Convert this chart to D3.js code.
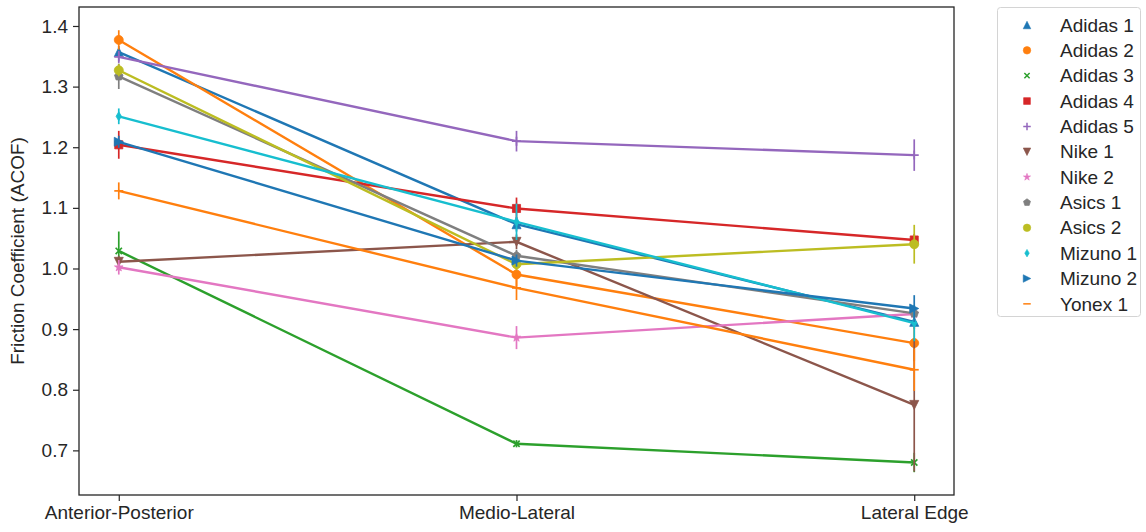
<!DOCTYPE html>
<html>
<head>
<meta charset="utf-8">
<script src="https://cdn.jsdelivr.net/npm/d3@7/dist/d3.min.js"></script>
<style>
  html, body { margin: 0; padding: 0; background: #fff; }
  svg { display: block; font-family: "Liberation Sans", Arial, sans-serif; }
</style>
</head>
<body>
<svg id="chart" width="1146" height="532"></svg>
<script>
// Test directions along the x axis
const categories = ["Anterior-Posterior", "Medio-Lateral", "Lateral Edge"];

// Shoe models
const shoes = ["Adidas 1", "Adidas 2", "Adidas 3", "Adidas 4", "Adidas 5", "Nike 1",
               "Nike 2", "Asics 1", "Asics 2", "Mizuno 1", "Mizuno 2", "Yonex 1"];

// Mean ACOF per shoe, one value per direction
const adidas1 = [1.357, 1.073, 0.912];
const adidas2 = [1.377, 0.990, 0.877];
const adidas3 = [1.029, 0.711, 0.680];
const adidas4 = [1.204, 1.099, 1.047];
const adidas5 = [1.349, 1.210, 1.187];
const nike1   = [1.011, 1.044, 0.775];
const nike2   = [1.002, 0.886, 0.925];
const asics1  = [1.317, 1.021, 0.926];
const asics2  = [1.327, 1.007, 1.040];
const mizuno1 = [1.251, 1.077, 0.910];
const mizuno2 = [1.209, 1.013, 0.934];
const yonex1  = [1.128, 0.968, 0.833];

// Standard deviation per shoe, one value per direction
const adidas1Err = [0.010, 0.012, 0.012];
const adidas2Err = [0.016, 0.020, 0.030];
const adidas3Err = [0.032, 0.006, 0.016];
const adidas4Err = [0.023, 0.018, 0.010];
const adidas5Err = [0.010, 0.017, 0.026];
const nike1Err   = [0.010, 0.012, 0.110];
const nike2Err   = [0.012, 0.019, 0.010];
const asics1Err  = [0.021, 0.010, 0.010];
const asics2Err  = [0.010, 0.010, 0.032];
const mizuno1Err = [0.013, 0.030, 0.030];
const mizuno2Err = [0.010, 0.010, 0.022];
const yonex1Err  = [0.014, 0.020, 0.035];

const yTicks = [0.7, 0.8, 0.9, 1.0, 1.1, 1.2, 1.3, 1.4];

const means = [adidas1, adidas2, adidas3, adidas4, adidas5, nike1, nike2, asics1, asics2, mizuno1, mizuno2, yonex1];
const errs = [adidas1Err, adidas2Err, adidas3Err, adidas4Err, adidas5Err, nike1Err, nike2Err, asics1Err, asics2Err, mizuno1Err, mizuno2Err, yonex1Err];

const colors = ["#1f77b4", "#ff7f0e", "#2ca02c", "#d62728", "#9467bd", "#8c564b",
                "#e377c2", "#7f7f7f", "#bcbd22", "#17becf", "#1f77b4", "#ff7f0e"];
const markers = ["triUp", "circle", "x", "square", "plus", "triDown",
                 "star", "pentagon", "circle", "thinDiamond", "triRight", "hline"];

// Marker shapes, m = marker size in px
function markerPath(kind, m) {
  const h = m / 2;
  const p = d3.path();
  switch (kind) {
    case "triUp":
      p.moveTo(0, -h); p.lineTo(-h, h); p.lineTo(h, h); p.closePath(); break;
    case "triDown":
      p.moveTo(0, h); p.lineTo(-h, -h); p.lineTo(h, -h); p.closePath(); break;
    case "triRight":
      p.moveTo(h, 0); p.lineTo(-h, -h); p.lineTo(-h, h); p.closePath(); break;
    case "circle":
      p.arc(0, 0, h, 0, 2 * Math.PI); p.closePath(); break;
    case "square": {
      const s = h * 0.9;
      p.rect(-s, -s, 2 * s, 2 * s); break;
    }
    case "pentagon":
      for (let i = 0; i < 5; i++) {
        const a = -Math.PI / 2 + i * 2 * Math.PI / 5;
        const px = h * Math.cos(a), py = h * Math.sin(a);
        if (i === 0) p.moveTo(px, py); else p.lineTo(px, py);
      }
      p.closePath(); break;
    case "star":
      for (let i = 0; i < 10; i++) {
        const a = -Math.PI / 2 + i * Math.PI / 5;
        const r = i % 2 === 0 ? h : h * 0.38;
        const px = r * Math.cos(a), py = r * Math.sin(a);
        if (i === 0) p.moveTo(px, py); else p.lineTo(px, py);
      }
      p.closePath(); break;
    case "thinDiamond":
      p.moveTo(0, -h); p.lineTo(h * 0.6, 0); p.lineTo(0, h); p.lineTo(-h * 0.6, 0); p.closePath(); break;
    case "x":
      p.moveTo(-h * 0.7, -h * 0.7); p.lineTo(h * 0.7, h * 0.7);
      p.moveTo(-h * 0.7, h * 0.7); p.lineTo(h * 0.7, -h * 0.7); break;
    case "plus":
      p.moveTo(-h, 0); p.lineTo(h, 0); p.moveTo(0, -h); p.lineTo(0, h); break;
    case "hline":
      p.moveTo(-h, 0); p.lineTo(h, 0); break;
  }
  return p.toString();
}
const strokeOnly = new Set(["x", "plus", "hline"]);

const svg = d3.select("#chart");
const frame = { left: 79, right: 954, top: 7, bottom: 495 };
const ink = "#262626";
const fontSize = "19px";

const x = d3.scalePoint().domain(categories).range([frame.left, frame.right]).padding(0.1);
const y = d3.scaleLinear().domain([0.6264, 1.4313]).range([frame.bottom, frame.top]);

// Axes
const xAxis = svg.append("g")
  .attr("transform", `translate(0,${frame.bottom})`)
  .call(d3.axisBottom(x).tickSize(6).tickPadding(5));
const yAxis = svg.append("g")
  .attr("transform", `translate(${frame.left},0)`)
  .call(d3.axisLeft(y).tickValues(yTicks).tickFormat(d3.format(".1f")).tickSize(6).tickPadding(5));
[xAxis, yAxis].forEach(g => {
  g.select(".domain").remove();
  g.selectAll(".tick line").attr("stroke", ink).attr("stroke-width", 1.2);
  g.selectAll(".tick text").attr("fill", ink).style("font-size", fontSize)
    .style("font-family", '"Liberation Sans", Arial, sans-serif');
});

// Y label
svg.append("text")
  .attr("transform", `translate(24,${(frame.top + frame.bottom) / 2}) rotate(-90)`)
  .attr("text-anchor", "middle")
  .attr("fill", ink)
  .style("font-size", fontSize)
  .text("Friction Coefficient (ACOF)");

// Series: error bars, connecting line, markers
const plot = svg.append("g");
means.forEach((vals, si) => {
  const g = plot.append("g");
  const col = colors[si];
  const pts = vals.map((v, i) => ({ cat: categories[i], v, e: errs[si][i] }));
  g.selectAll("line.err").data(pts).join("line")
    .attr("class", "err")
    .attr("x1", d => x(d.cat)).attr("x2", d => x(d.cat))
    .attr("y1", d => y(d.v - d.e)).attr("y2", d => y(d.v + d.e))
    .attr("stroke", col).attr("stroke-width", 1.7);
  g.append("path")
    .datum(pts)
    .attr("d", d3.line().x(d => x(d.cat)).y(d => y(d.v)))
    .attr("fill", "none").attr("stroke", col).attr("stroke-width", 2.4);
  const kind = markers[si];
  g.selectAll("path.mk").data(pts).join("path")
    .attr("class", "mk")
    .attr("transform", d => `translate(${x(d.cat)},${y(d.v)})`)
    .attr("d", markerPath(kind, 9))
    .attr("fill", strokeOnly.has(kind) ? "none" : col)
    .attr("stroke", col)
    .attr("stroke-width", strokeOnly.has(kind) ? 1.7 : 0.8);
});

// Plot frame
svg.append("rect")
  .attr("x", frame.left).attr("y", frame.top)
  .attr("width", frame.right - frame.left).attr("height", frame.bottom - frame.top)
  .attr("fill", "none").attr("stroke", ink).attr("stroke-width", 1.3);

// Legend
const leg = svg.append("g");
leg.append("rect")
  .attr("x", 997.5).attr("y", 7.5).attr("width", 143).attr("height", 309)
  .attr("rx", 3).attr("fill", "#fff").attr("stroke", "#d4d4d4").attr("stroke-width", 1);
shoes.forEach((name, i) => {
  const cy = 25 + i * 25.35;
  const kind = markers[i];
  leg.append("path")
    .attr("transform", `translate(1027,${cy})`)
    .attr("d", markerPath(kind, 7.5))
    .attr("fill", strokeOnly.has(kind) ? "none" : colors[i])
    .attr("stroke", colors[i])
    .attr("stroke-width", strokeOnly.has(kind) ? 1.5 : 0.6);
  leg.append("text")
    .attr("x", 1060).attr("y", cy).attr("dy", "0.35em")
    .attr("fill", ink).style("font-size", fontSize)
    .text(name);
});
</script>
</body>
</html>
